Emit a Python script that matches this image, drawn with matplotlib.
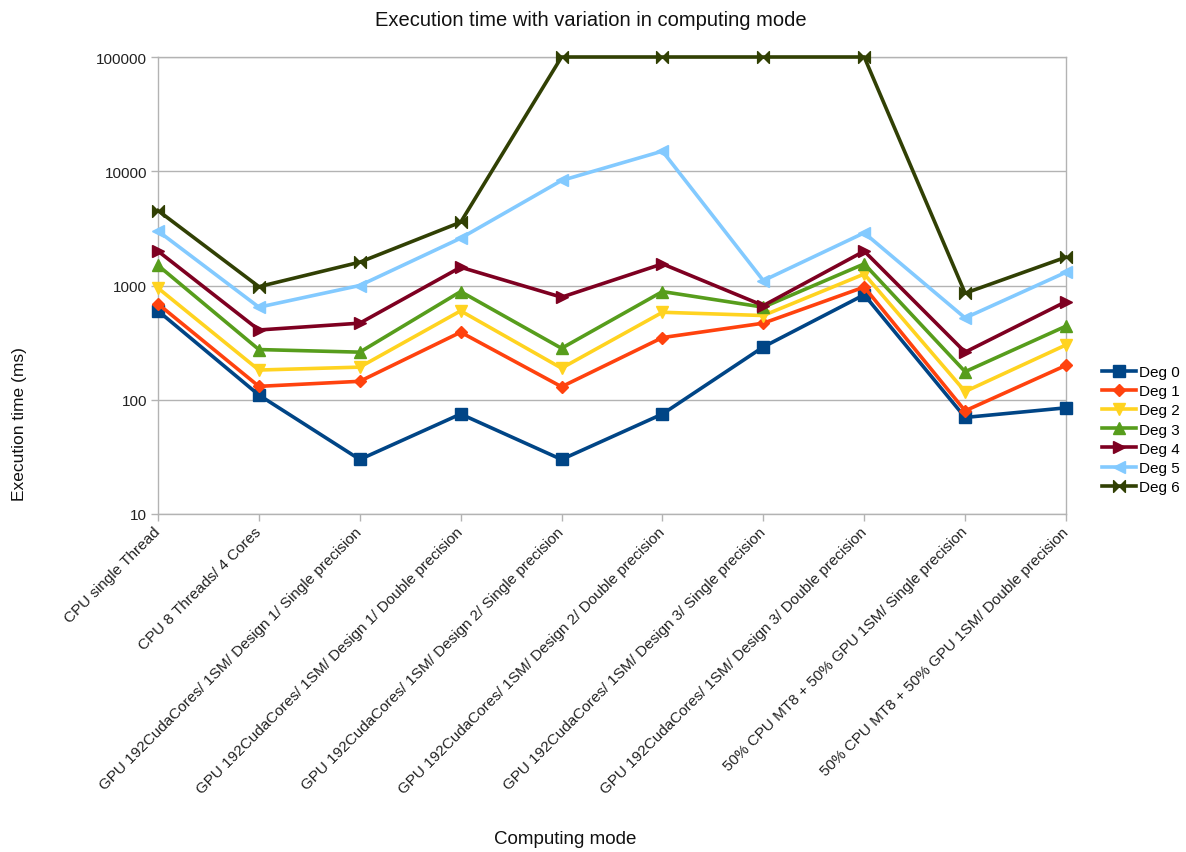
import matplotlib
matplotlib.use("Agg")
import matplotlib.pyplot as plt
from matplotlib.path import Path
from matplotlib.ticker import FixedFormatter, FixedLocator, NullLocator

plt.rcParams['font.family'] = ['Liberation Sans', 'DejaVu Sans']

modes = [
    "CPU single Thread",
    "CPU 8 Threads/ 4 Cores",
    "GPU 192CudaCores/ 1SM/ Design 1/ Single precision",
    "GPU 192CudaCores/ 1SM/ Design 1/ Double precision",
    "GPU 192CudaCores/ 1SM/ Design 2/ Single precision",
    "GPU 192CudaCores/ 1SM/ Design 2/ Double precision",
    "GPU 192CudaCores/ 1SM/ Design 3/ Single precision",
    "GPU 192CudaCores/ 1SM/ Design 3/ Double precision",
    "50% CPU MT8 + 50% GPU 1SM/ Single precision",
    "50% CPU MT8 + 50% GPU 1SM/ Double precision",
]

deg0 = [600, 110, 30, 75, 30, 75, 290, 830, 70, 85]
deg1 = [690, 131, 145, 390, 130, 350, 468, 970, 80, 200]
deg2 = [950, 182, 193, 600, 189, 583, 546, 1260, 118, 302]
deg3 = [1500, 275, 261, 885, 282, 885, 646, 1546, 176, 441]
deg4 = [2000, 408, 468, 1445, 790, 1546, 667, 2000, 261, 723]
deg5 = [3000, 646, 1000, 2594, 8300, 15000, 1104, 2890, 520, 1306]
deg6 = [4530, 977, 1600, 3580, 100000, 100000, 100000, 100000, 857, 1770]

series_names = ["Deg 0", "Deg 1", "Deg 2", "Deg 3", "Deg 4", "Deg 5", "Deg 6"]
series_values = [deg0, deg1, deg2, deg3, deg4, deg5, deg6]

y_ticks = [10, 100, 1000, 10000, 100000]
y_tick_labels = ["10", "100", "1000", "10000", "100000"]

# hourglass-on-its-side marker (two triangles meeting at the centre)
bowtie = Path([(-1, -1), (1, 1), (1, -1), (-1, 1), (-1, -1)],
              [Path.MOVETO, Path.LINETO, Path.LINETO, Path.LINETO, Path.CLOSEPOLY])

colors = ["#004586", "#ff420e", "#ffd320", "#579d1c", "#7e0021", "#83caff", "#314004"]
markers = ["s", "D", "v", "^", ">", "<", bowtie]
msizes = [8.5, 6.5, 8.5, 8.5, 8.5, 8.5, 8.5]

W, H = 1186, 853
fig = plt.figure(figsize=(W / 100, H / 100), dpi=100)
left, right, top, bottom = 158, 1066, 58, 515
ax = fig.add_axes([left / W, 1 - bottom / H, (right - left) / W, (bottom - top) / H])

x = list(range(len(modes)))
for name, vals, c, m, ms in zip(series_names, series_values, colors, markers, msizes):
    ax.plot(x, vals, color=c, marker=m, markersize=ms, linewidth=2.6,
            markeredgecolor=c, markerfacecolor=c, label=name, zorder=3,
            solid_joinstyle="miter", clip_on=False)

ax.set_yscale("log")
ax.set_ylim(10, 100000)
ax.set_xlim(0, len(modes) - 1)
ax.yaxis.set_major_locator(FixedLocator(y_ticks))
ax.yaxis.set_major_formatter(FixedFormatter(y_tick_labels))
ax.yaxis.set_minor_locator(NullLocator())

ax.set_xticks(x)
ax.set_xticklabels(modes, rotation=45, ha="right", va="center",
                   rotation_mode="anchor", fontsize=11, color="#222222")
ax.tick_params(axis="x", length=5, width=1, color="#b3b3b3", pad=6)
ax.tick_params(axis="y", length=5, width=1, color="#b3b3b3", labelsize=11,
               labelcolor="#222222", pad=3)

ax.grid(axis="y", color="#b3b3b3", linewidth=1, zorder=0)
ax.set_axisbelow(True)
for sp in ax.spines.values():
    sp.set_color("#b3b3b3")
    sp.set_linewidth(1)

fig.text(591 / W, 1 - 21 / H, "Execution time with variation in computing mode",
         ha="center", va="center", fontsize=14.5, color="#111111")
fig.text(565 / W, 1 - 840 / H, "Computing mode", ha="center", va="center",
         fontsize=13.5, color="#111111")
fig.text(20 / W, 1 - 424 / H, "Execution time (ms)", ha="center", va="center",
         rotation=90, fontsize=12.5, color="#111111")

fig.legend(loc="upper left", bbox_to_anchor=(1102 / W, 1 - 366 / H),
           frameon=False, fontsize=11, handlelength=2.2, handletextpad=0.25,
           labelspacing=0.34, borderpad=0, borderaxespad=0, numpoints=1)

fig.savefig("out.png", dpi=100, facecolor="white")
